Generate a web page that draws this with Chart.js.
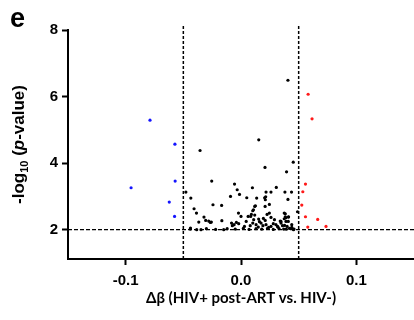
<!DOCTYPE html>
<html>
<head>
<meta charset="utf-8">
<script src="https://cdn.jsdelivr.net/npm/chart.js@4.4.1/dist/chart.umd.min.js"></script>
<style>
html, body { margin: 0; padding: 0; background: #fff; }
#wrap { width: 414px; height: 320px; }
</style>
</head>
<body>
<div id="wrap"><canvas id="volcano" width="414" height="320"></canvas></div>
<script>
// Δβ e -log10(p) lidos da figura
// hipometilados (azul)
const downX = [-0.0789, -0.0573, -0.0571, -0.0953, -0.0622, -0.0576];
const downY = [5.29, 4.57, 3.46, 3.26, 2.83, 2.40];
// hipermetilados (vermelho)
const upX = [0.0582, 0.0616, 0.0559, 0.0536, 0.0527, 0.0559, 0.0665, 0.0579, 0.0737];
const upY = [6.07, 5.33, 3.37, 3.14, 2.74, 2.39, 2.31, 2.08, 2.10];
// nao significativos (preto)
const nsX = [
  0.0407, -0.0355, 0.0154, 0.0453, 0.0208, 0.0395, -0.0254,
  -0.0056, -0.0033, -0.0091, -0.0478, -0.0435,
  0.0306, 0.0099, 0.0381, 0.0438, 0.0217, 0.0260, -0.0013, 0.0050, 0.0136, 0.0205, 0.0407,
  0.0246, 0.0125, 0.0108, 0.0490, 0.0375, 0.0412, 0.0375,
  -0.0407, -0.0386, -0.0243, -0.0168, -0.0321, -0.0280, -0.0257, -0.0166, -0.0366, -0.0438, -0.0347,
  -0.0022, 0.0000, 0.0119, 0.0102, 0.0084, 0.0211, 0.0209,
  0.0246, 0.0090, 0.0119, 0.0226, 0.0384, 0.0062, 0.0153, 0.0194, 0.0260, 0.0390,
  -0.0306, -0.0266, -0.0082, -0.0060, -0.0040, -0.0075, -0.0020,
  0.0045, 0.0102, 0.0131, 0.0174, 0.0217, 0.0260, 0.0303, 0.0347, 0.0390,
  -0.0440, -0.0300, -0.0220, -0.0120, -0.0050, 0.0020, 0.0070, 0.0130, 0.0180, 0.0230, 0.0280, 0.0330, 0.0370, 0.0420, 0.0460,
  0.0030, 0.0080, 0.0150, 0.0190, 0.0240, 0.0280, 0.0320, 0.0360, 0.0400, 0.0440, 0.0110, 0.0160, 0.0210, 0.0290, 0.0340, 0.0440,
  0.0214, 0.0384, 0.0412, 0.0410, 0.0347, 0.0441, 0.0455, 0.0392, 0.0378, 0.0317, -0.0150, -0.0384
];
const nsY = [
  6.49, 4.38, 4.70, 4.03, 3.87, 3.74, 3.46,
  3.37, 3.20, 3.00, 3.13, 2.95,
  3.27, 3.26, 3.13, 3.13, 3.13, 3.13, 3.06, 2.96, 2.95, 2.96, 2.91,
  2.76, 2.72, 2.60, 2.54, 2.50, 2.38, 2.33,
  2.63, 2.50, 2.75, 2.73, 2.38, 2.26, 2.23, 2.27, 2.23, 2.05, 2.00,
  2.50, 2.40, 2.70, 2.57, 2.40, 2.90, 2.70,
  2.50, 2.46, 2.44, 2.46, 2.48, 2.40, 2.32, 2.34, 2.37, 2.36,
  2.28, 2.22, 2.20, 2.15, 2.22, 2.12, 2.18,
  2.25, 2.20, 2.15, 2.20, 2.15, 2.10, 2.15, 2.20, 2.25,
  2.02, 2.03, 2.01, 2.03, 2.02, 2.04, 2.01, 2.03, 2.02, 2.04, 2.01, 2.03, 2.02, 2.04, 2.02,
  2.10, 2.12, 2.08, 2.12, 2.07, 2.18, 2.08, 2.12, 2.10, 2.15, 2.30, 2.24, 2.28, 2.30, 2.26, 2.06,
  2.99, 2.39, 2.39, 2.25, 2.25, 2.06, 2.00, 2.02, 2.13, 2.10, 2.00, 2.00
];
// limiares e eixos
const dbCut = [-0.05, 0.05];
const pCut = 2;
const xTicks = [-0.1, 0.0, 0.1];
const yTicks = [2, 4, 6, 8];
const xRange = [-0.15, 0.15];
const yRange = [1.12, 8];

const zip = (xs, ys) => xs.map((x, i) => ({ x: x, y: ys[i] }));

const FONT = "'Liberation Sans', Arial, sans-serif";
Chart.defaults.font.family = FONT;
Chart.defaults.color = '#000';

// titulo do eixo y com subscrito e italico, e letra do painel
const extraText = {
  id: 'extraText',
  afterDraw(chart) {
    const ctx = chart.ctx;
    const area = chart.chartArea;
    ctx.save();
    ctx.fillStyle = '#000';
    ctx.textBaseline = 'alphabetic';
    ctx.font = 'bold 27px ' + FONT;
    ctx.fillText('e', 10, 27);

    const parts = [
      { t: '-log', f: 'bold 17px ' + FONT, dy: 0 },
      { t: '10', f: 'bold 11px ' + FONT, dy: 4 },
      { t: ' (', f: 'bold 17px ' + FONT, dy: 0 },
      { t: 'p', f: 'italic bold 17px ' + FONT, dy: 0 },
      { t: '-value)', f: 'bold 17px ' + FONT, dy: 0 }
    ];
    let total = 0;
    parts.forEach(p => { ctx.font = p.f; p.w = ctx.measureText(p.t).width; total += p.w; });
    ctx.translate(24, (area.top + area.bottom) / 2);
    ctx.rotate(-Math.PI / 2);
    let x = -total / 2;
    parts.forEach(p => {
      ctx.font = p.f;
      ctx.fillText(p.t, x, p.dy);
      x += p.w;
    });
    ctx.restore();
  }
};

const lineStyle = (dash, width) => ({
  type: 'line',
  borderColor: '#000',
  borderWidth: width,
  borderDash: dash,
  pointRadius: 0,
  fill: false,
  clip: false,
  order: 5
});

new Chart(document.getElementById('volcano'), {
  type: 'scatter',
  data: {
    datasets: [
      Object.assign({ data: [{ x: dbCut[0], y: yRange[0] }, { x: dbCut[0], y: 8.12 }] }, lineStyle([3, 2], 1.5)),
      Object.assign({ data: [{ x: dbCut[1], y: yRange[0] }, { x: dbCut[1], y: 8.12 }] }, lineStyle([3, 2], 1.5)),
      Object.assign({ data: [{ x: xRange[0], y: pCut }, { x: xRange[1], y: pCut }] }, lineStyle([4, 2], 1.2)),
      {
        data: zip(nsX, nsY),
        backgroundColor: '#000',
        borderWidth: 0,
        pointRadius: 1.6,
        order: 1
      },
      {
        data: zip(downX, downY),
        backgroundColor: '#1414ff',
        borderWidth: 0,
        pointRadius: 1.6,
        order: 1
      },
      {
        data: zip(upX, upY),
        backgroundColor: '#ff1a1a',
        borderWidth: 0,
        pointRadius: 1.6,
        order: 1
      }
    ]
  },
  options: {
    responsive: false,
    animation: false,
    devicePixelRatio: 1,
    layout: { autoPadding: false, padding: { top: 30, right: 0, bottom: 0, left: 0 } },
    plugins: {
      legend: { display: false },
      tooltip: { enabled: false }
    },
    scales: {
      x: {
        type: 'linear',
        min: xRange[0],
        max: xRange[1],
        afterBuildTicks: s => { s.ticks = xTicks.map(v => ({ value: v })); },
        afterFit: s => { s.height = 61; },
        ticks: {
          callback: v => v.toFixed(1),
          font: { size: 15, weight: 'bold' },
          color: '#000',
          padding: 7
        },
        grid: {
          drawOnChartArea: false,
          drawTicks: true,
          tickLength: 6,
          tickWidth: 2,
          tickColor: '#000'
        },
        border: { display: true, color: '#000', width: 2 },
        title: {
          display: true,
          text: 'Δβ (HIV+ post-ART vs. HIV-)',
          font: { family: 'Lato', size: 15, weight: 'bold' },
          color: '#000',
          padding: { top: 0, bottom: 13 }
        }
      },
      y: {
        type: 'linear',
        min: yRange[0],
        max: yRange[1],
        afterBuildTicks: s => { s.ticks = yTicks.map(v => ({ value: v })); },
        afterFit: s => { s.width = 68; },
        ticks: {
          font: { size: 15, weight: 'bold' },
          color: '#000',
          padding: 4
        },
        grid: {
          drawOnChartArea: false,
          drawTicks: true,
          tickLength: 6,
          tickWidth: 2,
          tickColor: '#000'
        },
        border: { display: true, color: '#000', width: 2 }
      }
    }
  },
  plugins: [extraText]
});
</script>
</body>
</html>
